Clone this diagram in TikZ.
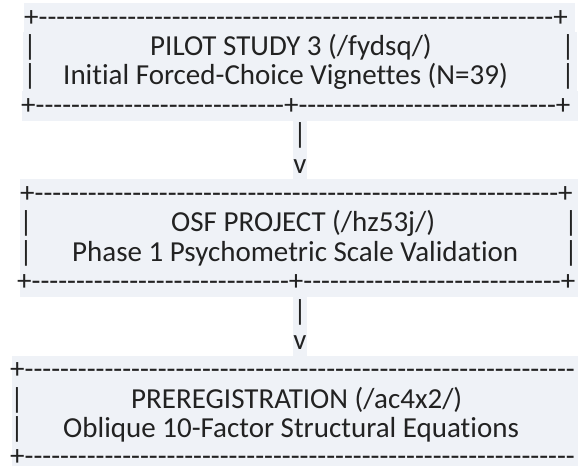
\documentclass[tikz,border=0pt]{standalone}
\usepackage{fontspec}
\setmainfont{Carlito}[Ligatures={TeXOff,NoCommon}]
\definecolor{codebg}{RGB}{239,242,247}
\definecolor{ink}{RGB}{34,34,34}
\ExplSyntaxOn
\cs_new:Npn \dashrun #1 { \prg_replicate:nn {#1} {-} }
\ExplSyntaxOff
\begin{document}
\begin{tikzpicture}[x=1pt,y=-1pt,
  band/.style={fill=codebg,draw=none},
  txt/.style={anchor=base west,inner sep=0pt,text=ink,font=\fontsize{29}{29}\selectfont},
  ctr/.style={anchor=base,inner sep=0pt,text=ink,font=\fontsize{29}{29}\selectfont}]
\useasboundingbox (0,0) rectangle (578,466);
% row k: baseline at 26+29.4k, band from 3+29.4k to 32.4+29.4k
% --- box 1 ---
\fill[band] (24,3) rectangle (575,32.4);
\fill[band] (23,32.4) rectangle (577,91.2);
\fill[band] (22,91.2) rectangle (578,120.6);
\node[txt] (t0) at (24,26) {+\dashrun{58}+};
\node[ctr] (t1l) at (30,55.4) {|};
\node[txt] (t1) at (150,55.4) {PILOT STUDY 3 (/fydsq/)};
\node[ctr] (t1r) at (568,55.4) {|};
\node[ctr] (t2l) at (30,84.8) {|};
\node[txt] (t2) at (63,84.8) {Initial Forced-Choice Vignettes (N=39)};
\node[ctr] (t2r) at (568,84.8) {|};
\node[txt] (t3) at (21,114.2) {+\dashrun{28}+\dashrun{29}+};
% --- link 1 ---
\fill[band] (293,120.6) rectangle (307,179.4);
\node[ctr] (a1) at (300,143.6) {|};
\node[ctr] (v1) at (300,173) {v};
% --- box 2 ---
\fill[band] (20,179.4) rectangle (578,297);
\node[txt] (t6) at (20,202.4) {+\dashrun{59}+};
\node[ctr] (t7l) at (26,231.8) {|};
\node[txt] (t7) at (171,231.8) {OSF PROJECT (/hz53j/)};
\node[ctr] (t7r) at (571,231.8) {|};
\node[ctr] (t8l) at (26,261.2) {|};
\node[txt] (t8) at (72,261.2) {Phase 1 Psychometric Scale Validation};
\node[ctr] (t8r) at (571,261.2) {|};
\node[txt] (t9) at (17,290.6) {+\dashrun{29}+\dashrun{29}+};
% --- link 2 ---
\fill[band] (293,297) rectangle (307,355.8);
\node[ctr] (a2) at (300,320) {|};
\node[ctr] (v2) at (300,349.4) {v};
% --- box 3 ---
\fill[band] (12,355.8) rectangle (578,466);
\node[txt] (t12) at (10,378.8) {+\dashrun{62}};
\node[ctr] (t13l) at (17,408.2) {|};
\node[txt] (t13) at (131,408.2) {PREREGISTRATION (/ac4x2/)};
\node[ctr] (t14l) at (17,437.6) {|};
\node[txt] (t14) at (63,437.6) {Oblique 10-Factor Structural Equations};
\node[txt,text depth=0pt] (t15) at (10,465.5) {+\dashrun{62}};
\end{tikzpicture}
\end{document}
